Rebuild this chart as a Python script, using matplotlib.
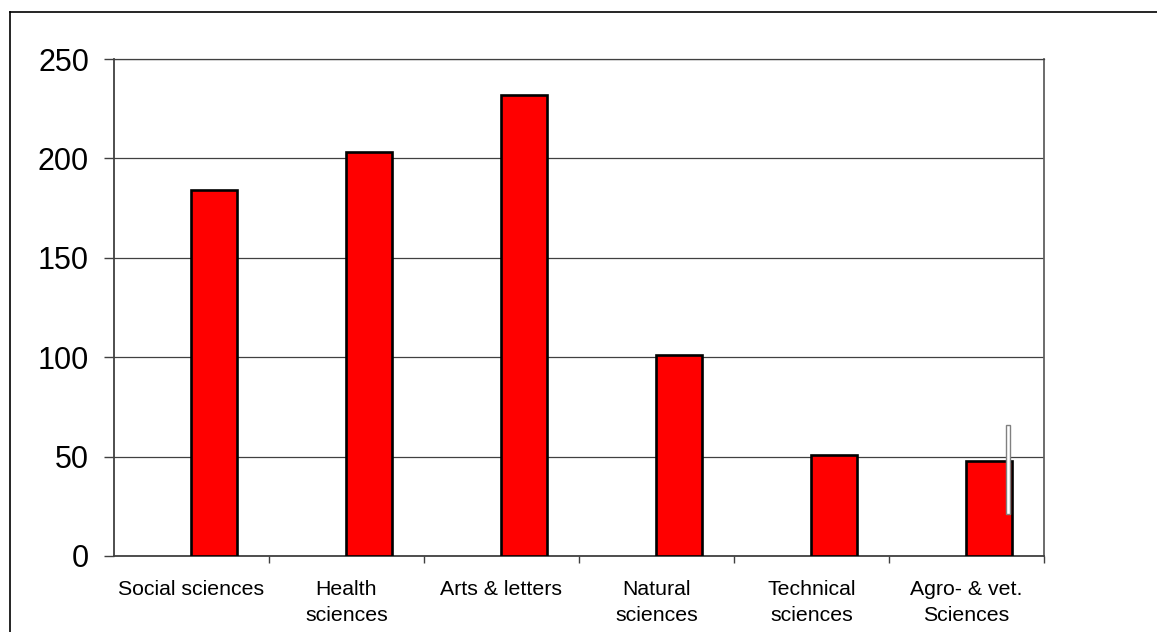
import matplotlib
matplotlib.use("Agg")
import matplotlib.pyplot as plt
from matplotlib.lines import Line2D

# number of programmes per field
fields = ["Social sciences", "Health\nsciences", "Arts & letters",
          "Natural\nsciences", "Technical\nsciences", "Agro- & vet.\nSciences"]
counts = [184, 203, 232, 101, 51, 48]

# stray thin marker next to the last bar (from, to)
stray_low = [21]
stray_high = [66]

plt.rcParams["font.family"] = ["Liberation Sans", "DejaVu Sans"]

fig = plt.figure(figsize=(11.57, 6.32), dpi=100)
ax = fig.add_axes([0.0985, 0.1203, 0.8038, 0.7863])

x = list(range(len(fields)))
ax.bar([i + 0.145 for i in x], counts, width=0.3, color="#ff0000",
       edgecolor="black", linewidth=1.9, zorder=3)

ax.bar([x[-1] + 0.268], [stray_high[0] - stray_low[0]], bottom=stray_low,
       width=0.026, color="white", edgecolor="#808080", linewidth=1.0, zorder=4)

ax.set_xlim(-0.5, len(fields) - 0.5)
ax.set_ylim(0, 250)
ax.set_yticks([0, 50, 100, 150, 200, 250])
ax.yaxis.grid(True, color="#404040", linewidth=0.9, zorder=0)
ax.set_axisbelow(True)

ax.set_xticks(x)
ax.set_xticklabels(fields, fontsize=15.3, linespacing=1.5)
ax.set_xticks([i + 0.5 for i in range(len(fields))], minor=True)
ax.tick_params(axis="x", which="major", length=0, pad=17)
ax.tick_params(axis="x", which="minor", length=5, width=1, color="#404040",
               direction="out")
ax.tick_params(axis="y", labelsize=22, length=7, width=1, color="#404040",
               direction="out", pad=11)

for side in ["left", "bottom"]:
    ax.spines[side].set_color("#404040")
    ax.spines[side].set_linewidth(1.3)
ax.spines["top"].set_color("#404040")
ax.spines["top"].set_linewidth(0.9)
ax.spines["right"].set_color("#606060")
ax.spines["right"].set_linewidth(1.3)

# frame around the chart area (right and bottom run off the canvas)
fig.add_artist(Line2D([0.0086, 0.0086], [0, 0.981], color="black", linewidth=1.2))
fig.add_artist(Line2D([0.0086, 1], [0.981, 0.981], color="black", linewidth=1.2))

fig.savefig("out.png", dpi=100)
